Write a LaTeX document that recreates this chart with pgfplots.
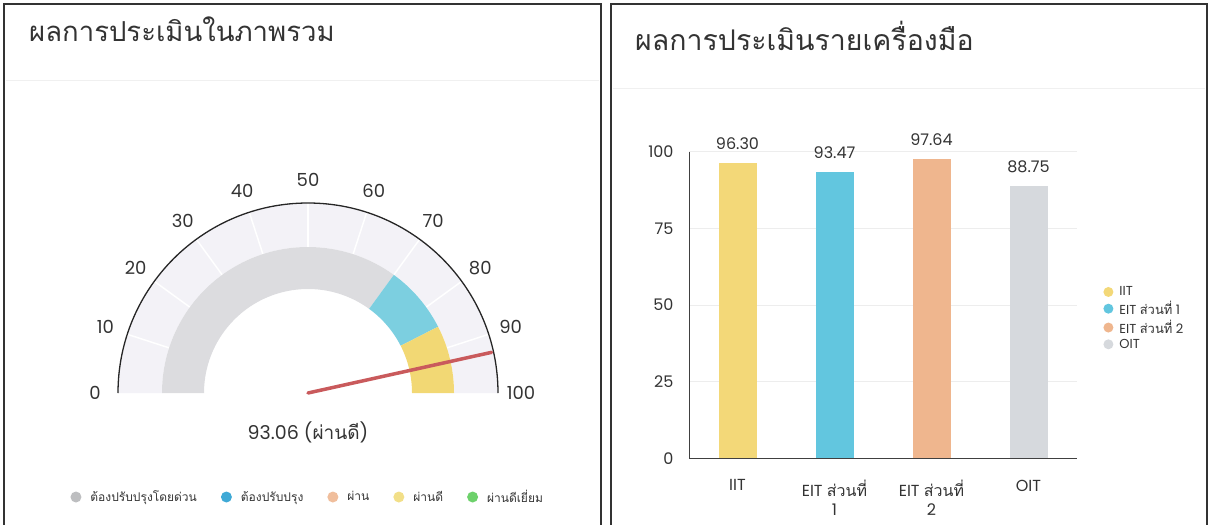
\documentclass[border=0pt]{standalone}
\usepackage{fontspec}
\setmainfont{Poppins}
\newfontfamily\thaifont[Script=Thai]{Loma}
\usepackage{pgfplots}
\pgfplotsset{compat=1.18}
\definecolor{ctext}{HTML}{333333}
\definecolor{cbg}{HTML}{F3F2F7}
\definecolor{bgray}{HTML}{DCDCDF}
\definecolor{bblue}{HTML}{7CCFE0}
\definecolor{byellow}{HTML}{F2D874}
\definecolor{cneedle}{HTML}{C95A5C}
\definecolor{lgray}{HTML}{BDBEC0}
\definecolor{lblue}{HTML}{3FA9D6}
\definecolor{lpeach}{HTML}{F0BE9C}
\definecolor{lyellow}{HTML}{F2DF88}
\definecolor{lgreen}{HTML}{6DD16B}
\definecolor{cyellow}{HTML}{F3D878}
\definecolor{cblue}{HTML}{62C6DF}
\definecolor{cpeach}{HTML}{EFB68E}
\definecolor{cgrey}{HTML}{D6D9DD}
\begin{document}
\begin{tikzpicture}
\useasboundingbox (0pt,0pt) rectangle (1211pt,-525pt);
% panel frames
\draw[line width=2pt, black!80] (4pt,-525pt) -- (4pt,-4pt) -- (601pt,-4pt) -- (601pt,-525pt);
\draw[line width=2pt, black!80] (611pt,-525pt) -- (611pt,-4pt) -- (1207pt,-4pt) -- (1207pt,-525pt);
\draw[black!6, line width=1pt] (6pt,-80pt) -- (599pt,-80pt);
\draw[black!6, line width=1pt] (613pt,-88pt) -- (1205pt,-88pt);
\node[anchor=base west, text=ctext, inner sep=0pt] at (29pt,-41pt) {\thaifont\fontsize{27.5}{32}\selectfont ผลการประเมินในภาพรวม};
\node[anchor=base west, text=ctext, inner sep=0pt] at (635pt,-50pt) {\thaifont\fontsize{28.5}{32}\selectfont ผลการประเมินรายเครื่องมือ};

% ---------------- gauge ----------------
\begin{axis}[
  at={(0pt,-525pt)}, anchor=south west,
  x=1pt, y=1pt, xmin=-308, xmax=293, ymin=-132, ymax=393,
  axis lines=none, clip=false,
  legend columns=5,
  legend style={at={(0.512,0.0533)}, anchor=center, draw=none, fill=none,
    font=\thaifont\fontsize{12}{14}\selectfont, text=ctext,
    /tikz/every odd column/.append style={column sep=7pt},
    /tikz/every even column/.append style={column sep=22pt}},
  legend image code/.code={\fill[#1, draw=none] (0pt,0pt) circle (5.5pt);},
]
% background ring
\fill[cbg] (axis cs:-190,0) arc[start angle=180,end angle=0,radius=190pt] -- (axis cs:146,0) arc[start angle=0,end angle=180,radius=146pt] -- cycle;
\pgfplotsinvokeforeach{1,...,9}{
  \draw[white, line width=1.5pt] (axis cs:{146*cos(180-18*#1)},{146*sin(180-18*#1)}) -- (axis cs:{190*cos(180-18*#1)},{190*sin(180-18*#1)});
}
% bands: 0-70, 70-85, 85-100  (angle = 180 - 1.8 v)
\fill[bgray] (axis cs:-146,0) arc[start angle=180,end angle={180-1.8*70},radius=146pt] -- (axis cs:{104*cos(180-1.8*70)},{104*sin(180-1.8*70)}) arc[start angle={180-1.8*70},end angle=180,radius=104pt] -- cycle;
\fill[bblue] (axis cs:{146*cos(180-1.8*70)},{146*sin(180-1.8*70)}) arc[start angle={180-1.8*70},end angle={180-1.8*85},radius=146pt] -- (axis cs:{104*cos(180-1.8*85)},{104*sin(180-1.8*85)}) arc[start angle={180-1.8*85},end angle={180-1.8*70},radius=104pt] -- cycle;
\fill[byellow] (axis cs:{146*cos(180-1.8*85)},{146*sin(180-1.8*85)}) arc[start angle={180-1.8*85},end angle=0,radius=146pt] -- (axis cs:104,0) arc[start angle=0,end angle={180-1.8*85},radius=104pt] -- cycle;
% outer arc
\draw[black!85, line width=1.3pt] (axis cs:-190,0) arc[start angle=180,end angle=0,radius=190pt];
% tick labels
\pgfplotsinvokeforeach{0,...,10}{
  \node[text=ctext, font=\fontsize{18}{20}\selectfont] at (axis cs:{213*cos(180-18*#1)},{213*sin(180-18*#1)}) {\number\numexpr #1*10\relax};
}
% needle at 93.06
\addplot[cneedle, line width=3.5pt, line cap=round, forget plot] coordinates {(0,0) (183.55,40.66)};
\node[text=ctext, font=\fontsize{19}{22}\selectfont] at (axis cs:0,-39) {93.06 ({\thaifont ผ่านดี})};
\addlegendimage{fill=lgray}\addlegendentry{ต้องปรับปรุงโดยด่วน}
\addlegendimage{fill=lblue}\addlegendentry{ต้องปรับปรุง}
\addlegendimage{fill=lpeach}\addlegendentry{ผ่าน}
\addlegendimage{fill=lyellow}\addlegendentry{ผ่านดี}
\addlegendimage{fill=lgreen}\addlegendentry{ผ่านดีเยี่ยม}
\end{axis}

% ---------------- bars ----------------
\begin{axis}[
  at={(689pt,-458.3pt)}, anchor=south west,
  scale only axis, width=388pt, height=306.7pt,
  xmin=-0.5, xmax=3.5, ymin=0, ymax=100,
  axis x line=bottom, axis y line=left,
  axis line style={-, draw=black!75, line width=0.9pt},
  xtick={0,1,2,3},
  xticklabels={IIT, {EIT {\thaifont ส่วนที่}\\1}, {EIT {\thaifont ส่วนที่}\\2}, OIT},
  ytick={0,25,50,75,100},
  major tick length=0pt,
  ymajorgrids, grid style={draw=black!7, line width=0.8pt},
  tick label style={font=\fontsize{16}{19}\selectfont, text=ctext},
  xticklabel style={align=center, yshift=-18pt},
  yticklabel style={xshift=-12pt},
  /pgf/number format/assume math mode=true,
  ybar, bar width=38pt, bar shift=0pt,
  nodes near coords={\pgfmathprintnumber[fixed,fixed zerofill,precision=2,assume math mode=true]{\pgfplotspointmeta}},
  every node near coord/.append style={font=\fontsize{16}{19}\selectfont, text=ctext, yshift=10pt},
  legend cell align=left,
  legend style={at={(1.065,0.57)}, anchor=north west, draw=none, fill=none,
    font=\fontsize{13}{15}\selectfont, row sep=0pt, inner sep=1pt, text=ctext,
    /tikz/every odd column/.append style={column sep=4pt}},
]
\addplot[fill=cyellow, draw=none, legend image code/.code={\fill[cyellow] (0pt,0pt) circle (5pt);}] coordinates {(0,96.30)};
\addlegendentry{IIT}
\addplot[fill=cblue, draw=none, legend image code/.code={\fill[cblue] (0pt,0pt) circle (5pt);}] coordinates {(1,93.47)};
\addlegendentry{EIT {\thaifont ส่วนที่} 1}
\addplot[fill=cpeach, draw=none, legend image code/.code={\fill[cpeach] (0pt,0pt) circle (5pt);}] coordinates {(2,97.64)};
\addlegendentry{EIT {\thaifont ส่วนที่} 2}
\addplot[fill=cgrey, draw=none, legend image code/.code={\fill[cgrey] (0pt,0pt) circle (5pt);}] coordinates {(3,88.75)};
\addlegendentry{OIT}
\end{axis}
\end{tikzpicture}
\end{document}
